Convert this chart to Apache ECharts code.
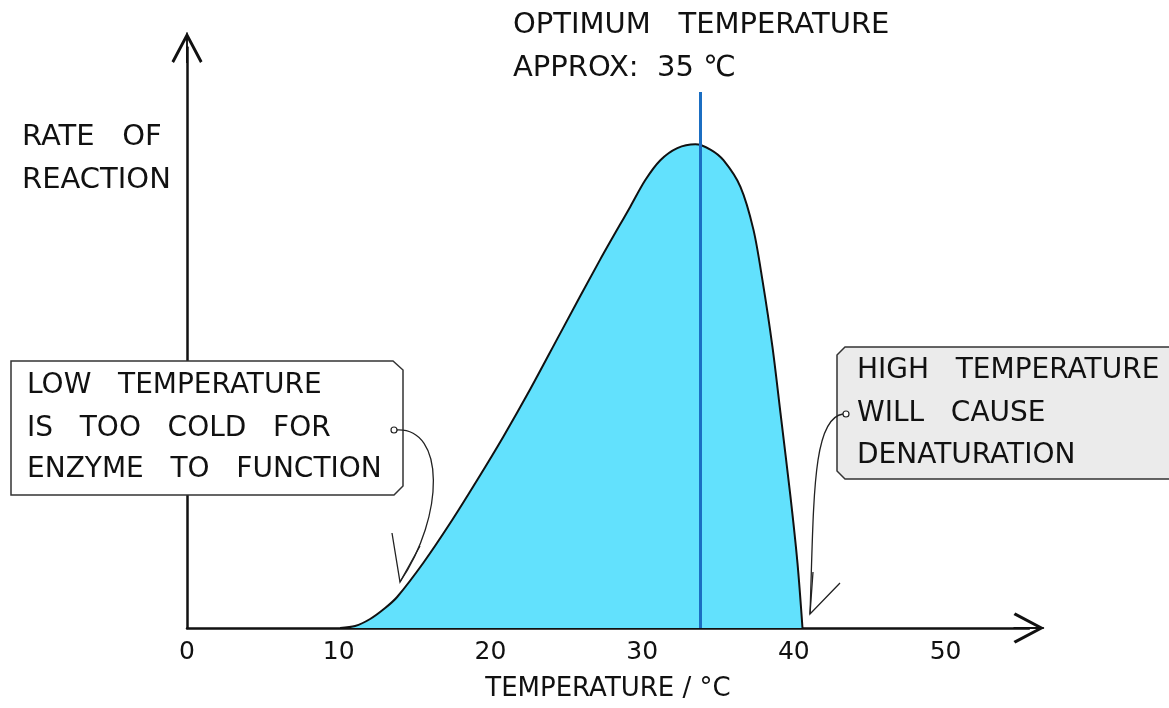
<!DOCTYPE html>
<html>
<head>
<meta charset="utf-8">
<script src="https://cdn.jsdelivr.net/npm/echarts@6/dist/echarts.min.js"></script>
<style>
html,body{margin:0;padding:0;background:#fff;}
#c{width:1169px;height:708px;}
</style>
</head>
<body>
<div id="c"></div>
<script>
// Data
const temperatures = [10.09, 11.08, 12.07, 13.06, 13.85, 15.57, 17.35, 19.13, 20.84, 22.63, 24.6, 27.24, 29.22, 30.21, 31.2, 32.32, 33.51, 34.5, 35.36, 36.48, 37.34, 37.93, 38.59, 39.12, 39.78, 40.24, 40.57];
const rates        = [0,     0.41,  1.86,  4.13,  6.41,  13.44, 21.7,  30.6,  39.5,  49.4,  60.9, 76.2,  87.1,  92.6,  96.7, 99.2,  100,   98.9, 96.7,  91.2,  82.3,  71.9,  58.1,  44.4,  27.1,  13.4,  0];
const xTicks = [0, 10, 20, 30, 40, 50];
const optimumTemp = 33.8;
const optimumLineTop = 110.8;

const FONT = '"DejaVu Sans", "Noto Sans", sans-serif';
const chevron = 'path://M50,0 L100,94 L92,100 L50,20 L8,100 L0,94 Z M47,2 L53,2 L53,100 L47,100 Z';

const chart = echarts.init(document.getElementById('c'));
const txt = (x, y, s, size, align) => ({
  type: 'text', x: x, y: y, z: 20,
  style: { text: s, font: size + 'px ' + FONT, fill: '#111', textAlign: align || 'left', textVerticalAlign: 'middle' }
});

chart.setOption({
  animation: false,
  grid: { left: 187, right: 140, top: 47.5, bottom: 80, containLabel: false },
  xAxis: {
    type: 'value', min: 0, max: 55.5, interval: 10,
    axisLine: { show: true, lineStyle: { color: '#111', width: 2.5 }, symbol: ['none', chevron], symbolSize: [31, 37] },
    axisTick: { show: false },
    splitLine: { show: false },
    axisLabel: {
      margin: 12, fontSize: 25, color: '#111', fontFamily: FONT,
      formatter: v => xTicks.includes(v) ? String(v) : ''
    },
    name: 'TEMPERATURE / °C', nameLocation: 'middle', nameGap: 48,
    nameTextStyle: { fontSize: 26, color: '#111', fontFamily: FONT }
  },
  yAxis: {
    type: 'value', min: 0, max: 120,
    axisLine: { show: true, lineStyle: { color: '#111', width: 2.5 }, symbol: ['none', chevron], symbolSize: [31, 36] },
    axisTick: { show: false }, axisLabel: { show: false }, splitLine: { show: false }
  },
  series: [{
    type: 'line',
    data: temperatures.map((t, i) => [t, rates[i]]),
    smooth: 0.3,
    symbol: 'none',
    lineStyle: { color: '#111', width: 2 },
    areaStyle: { color: '#62e1fd', opacity: 1 },
    z: 3,
    markLine: {
      silent: true, symbol: 'none', label: { show: false },
      lineStyle: { color: '#1b6ec2', width: 3, type: 'solid' },
      data: [[{ coord: [optimumTemp, 0] }, { coord: [optimumTemp, optimumLineTop] }]]
    }
  }],
  graphic: [
    txt(22, 137, 'RATE   OF', 29),
    txt(22, 180, 'REACTION', 29),
    txt(513, 25, 'OPTIMUM   TEMPERATURE', 29),
    txt(513, 68, 'APPROX:  35 ℃', 29),
    {
      type: 'polygon', z: 10,
      shape: { points: [[11,361],[393,361],[403,370],[403,486],[394,495],[11,495]] },
      style: { fill: '#fff', stroke: '#333', lineWidth: 1.5 }
    },
    txt(27, 386, 'LOW   TEMPERATURE', 28),
    txt(27, 429, 'IS   TOO   COLD   FOR', 28),
    txt(27, 470, 'ENZYME   TO   FUNCTION', 28),
    {
      type: 'polygon', z: 10,
      shape: { points: [[845,347],[1175,347],[1175,479],[845,479],[837,471],[837,355]] },
      style: { fill: '#ebebeb', stroke: '#333', lineWidth: 1.5 }
    },
    txt(857, 371, 'HIGH   TEMPERATURE', 28),
    txt(857, 414, 'WILL   CAUSE', 28),
    txt(857, 456, 'DENATURATION', 28),
    { type: 'circle', z: 21, shape: { cx: 394, cy: 430, r: 3 }, style: { fill: '#fff', stroke: '#222', lineWidth: 1.2 } },
    { type: 'bezierCurve', z: 21, shape: { x1: 397, y1: 430, cpx1: 445, cpy1: 428, cpx2: 445, cpy2: 515, x2: 400, y2: 582 }, style: { stroke: '#222', lineWidth: 1.3, fill: 'none' } },
    { type: 'polyline', z: 21, shape: { points: [[392,533],[400,582],[420,546]] }, style: { stroke: '#222', lineWidth: 1.3, fill: 'none' } },
    { type: 'circle', z: 21, shape: { cx: 846, cy: 414, r: 3 }, style: { fill: '#fff', stroke: '#222', lineWidth: 1.2 } },
    { type: 'bezierCurve', z: 21, shape: { x1: 843, y1: 414, cpx1: 812, cpy1: 418, cpx2: 814, cpy2: 500, x2: 810, y2: 614 }, style: { stroke: '#222', lineWidth: 1.3, fill: 'none' } },
    { type: 'polyline', z: 21, shape: { points: [[813,572],[810,614],[840,583]] }, style: { stroke: '#222', lineWidth: 1.3, fill: 'none' } }
  ]
});
</script>
</body>
</html>
